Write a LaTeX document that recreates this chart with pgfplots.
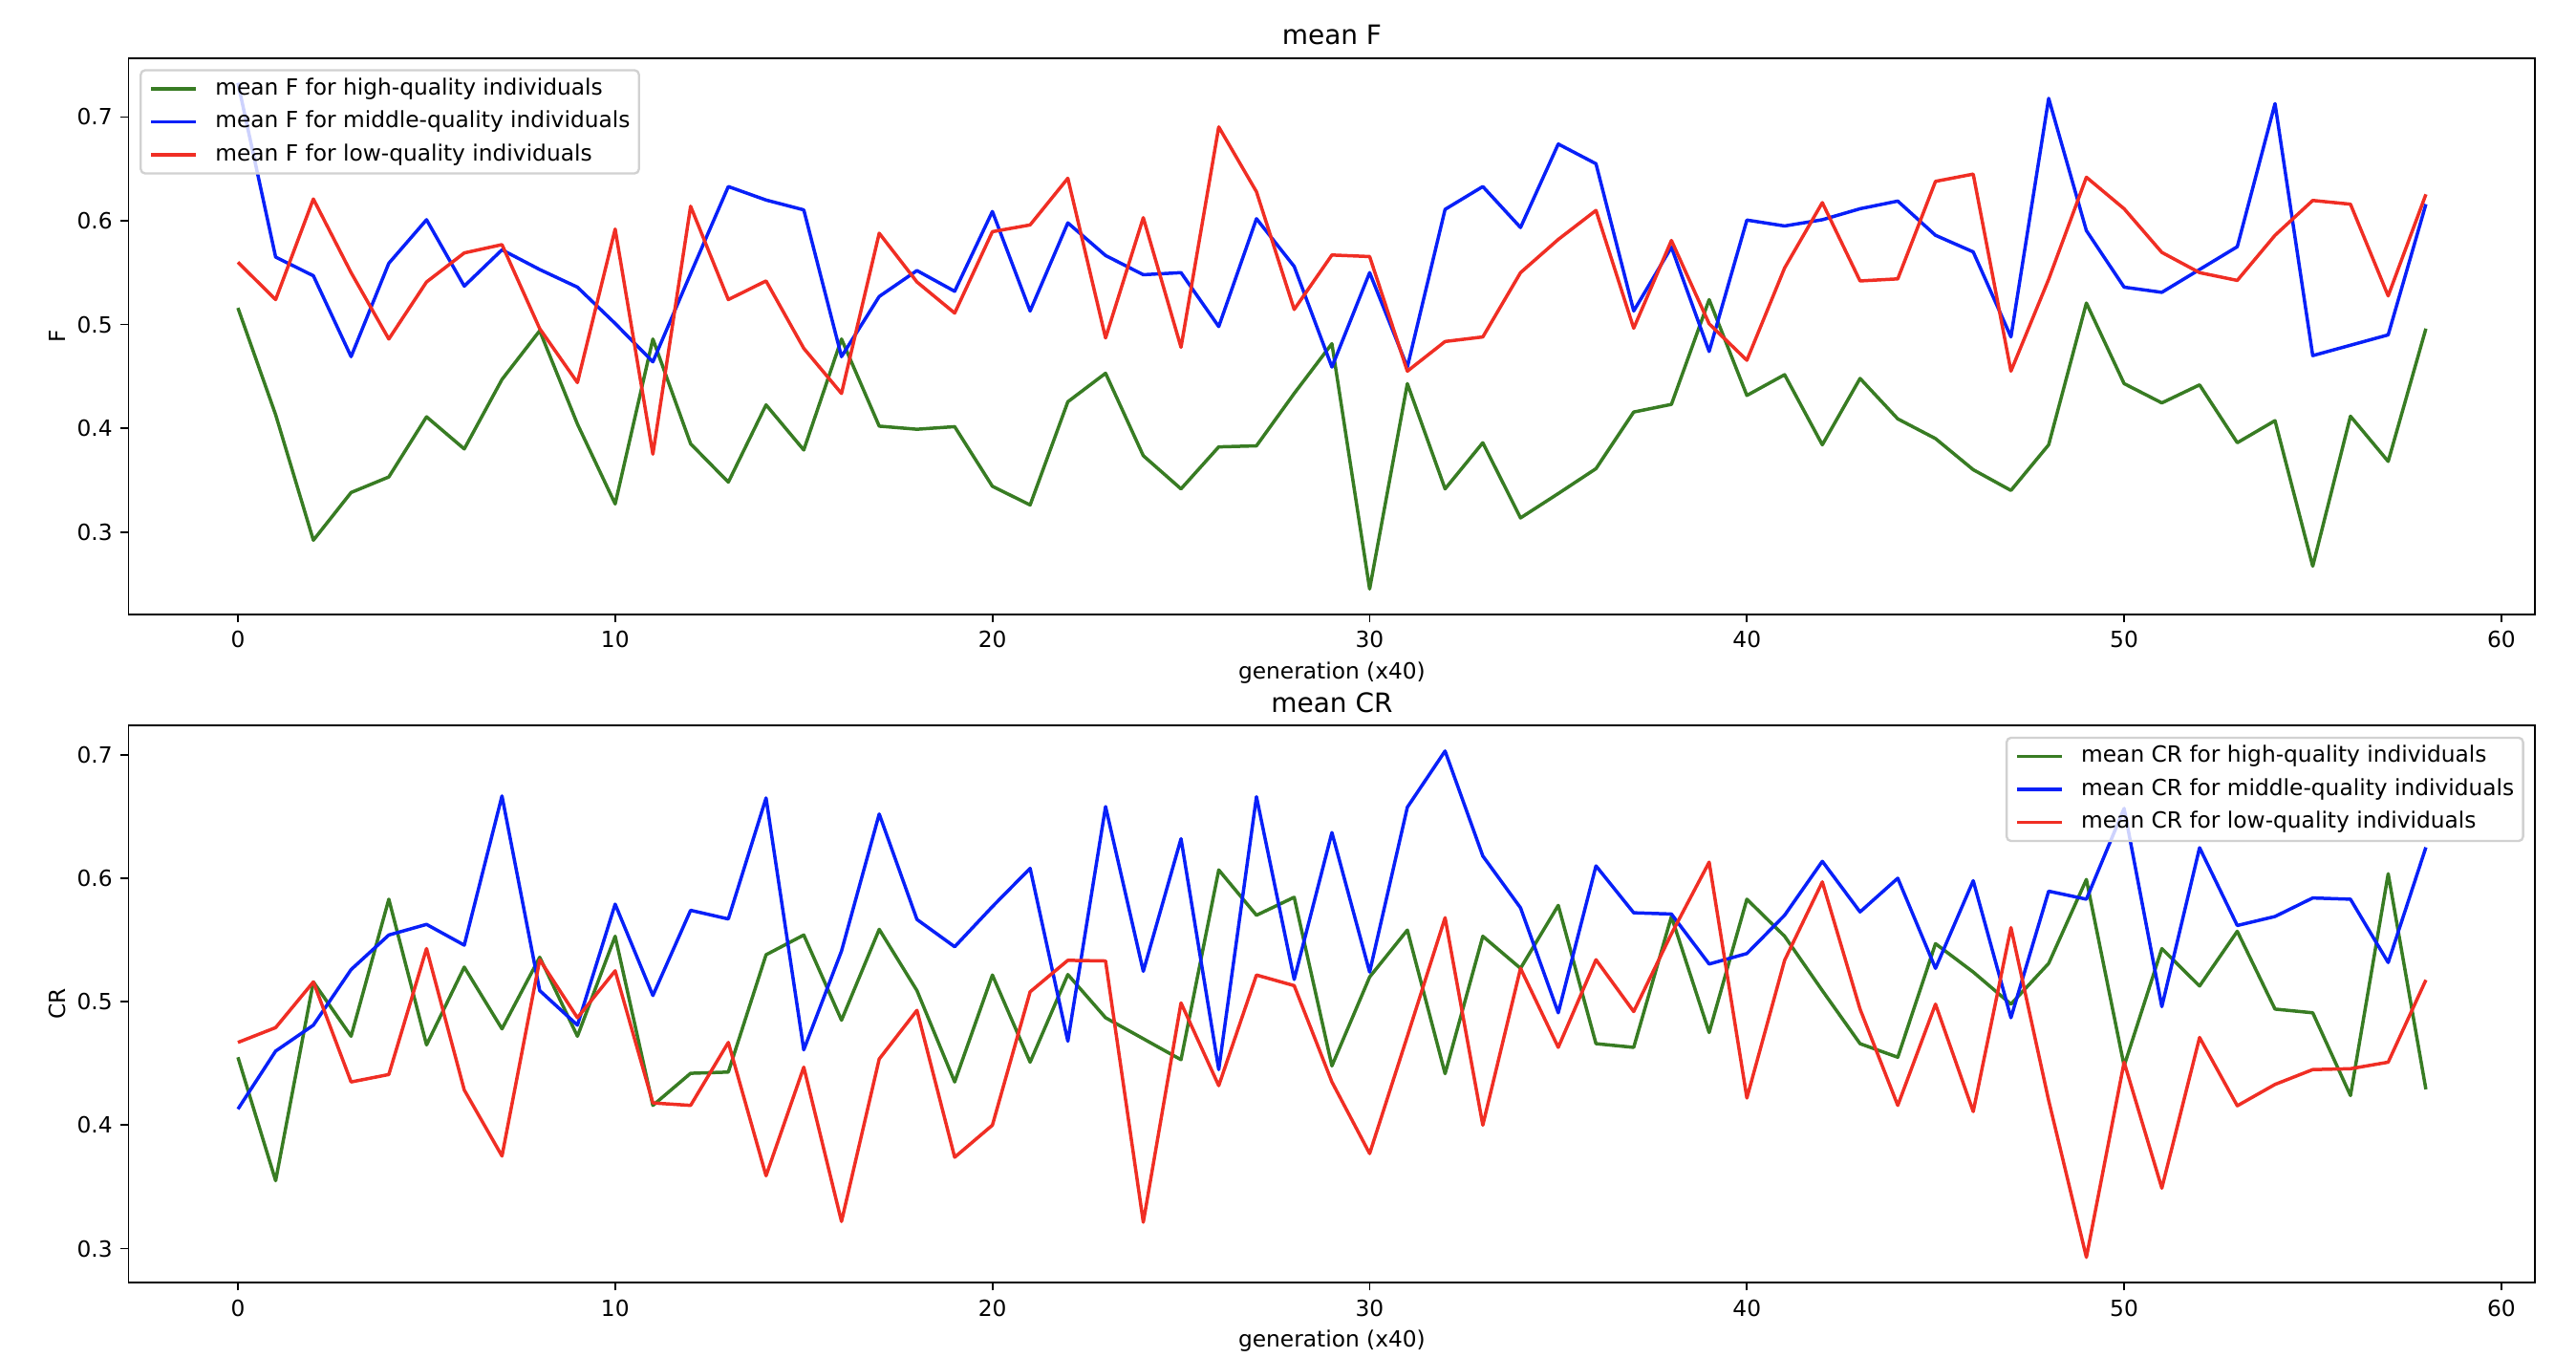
\documentclass[border=0pt]{standalone}
\usepackage{pgfplots}
\pgfplotsset{compat=1.18}
\usepackage{pgfplotstable}
\usepackage{fontspec}
\setmainfont{DejaVu Sans}
\definecolor{cg}{RGB}{56,124,35}
\definecolor{cb}{RGB}{8,32,248}
\definecolor{cr}{RGB}{240,46,36}

\pgfplotstableread{
x hi mid lo
0 0.516 0.733 0.560
1 0.413 0.565 0.524
2 0.292 0.547 0.621
3 0.338 0.469 0.550
4 0.353 0.559 0.486
5 0.411 0.601 0.541
6 0.380 0.537 0.569
7 0.447 0.572 0.577
8 0.494 0.553 0.496
9 0.404 0.536 0.444
10 0.327 0.501 0.592
11 0.486 0.464 0.375
12 0.385 0.549 0.614
13 0.348 0.633 0.524
14 0.4225 0.620 0.542
15 0.379 0.6105 0.477
16 0.486 0.469 0.4335
17 0.402 0.527 0.588
18 0.399 0.552 0.541
19 0.4015 0.532 0.511
20 0.344 0.609 0.5895
21 0.326 0.513 0.596
22 0.4255 0.598 0.641
23 0.453 0.5665 0.487
24 0.3735 0.548 0.603
25 0.3415 0.550 0.478
26 0.382 0.498 0.6905
27 0.383 0.602 0.628
28 0.4335 0.556 0.5145
29 0.4815 0.459 0.567
30 0.245 0.550 0.5655
31 0.443 0.459 0.455
32 0.3415 0.611 0.4836
33 0.386 0.633 0.488
34 0.3135 0.5935 0.550
35 0.337 0.674 0.582
36 0.361 0.655 0.610
37 0.4156 0.513 0.4964
38 0.423 0.5745 0.581
39 0.524 0.474 0.5007
40 0.4316 0.6007 0.4655
41 0.4516 0.595 0.5545
42 0.384 0.601 0.6175
43 0.448 0.6116 0.542
44 0.409 0.619 0.544
45 0.390 0.586 0.638
46 0.360 0.570 0.645
47 0.340 0.488 0.455
48 0.384 0.718 0.5436
49 0.5207 0.5905 0.642
50 0.443 0.536 0.6116
51 0.4244 0.531 0.5695
52 0.4418 0.553 0.550
53 0.386 0.575 0.5425
54 0.4073 0.713 0.586
55 0.267 0.470 0.6196
56 0.4116 0.480 0.616
57 0.368 0.490 0.5276
58 0.496 0.616 0.6255
}\Fdata

\pgfplotstableread{
x hi mid lo
0 0.455 0.413 0.467
1 0.355 0.460 0.479
2 0.516 0.481 0.516
3 0.472 0.526 0.435
4 0.583 0.554 0.441
5 0.465 0.5626 0.543
6 0.528 0.5458 0.4285
7 0.478 0.6666 0.375
8 0.536 0.509 0.534
9 0.472 0.481 0.487
10 0.553 0.579 0.525
11 0.416 0.505 0.418
12 0.442 0.574 0.416
13 0.443 0.567 0.467
14 0.538 0.665 0.359
15 0.554 0.461 0.447
16 0.485 0.541 0.322
17 0.5586 0.652 0.4536
18 0.509 0.5666 0.493
19 0.435 0.5445 0.374
20 0.5216 0.577 0.400
21 0.451 0.608 0.508
22 0.522 0.468 0.5335
23 0.487 0.658 0.533
24 0.470 0.5246 0.3214
25 0.453 0.632 0.499
26 0.6067 0.445 0.432
27 0.570 0.666 0.5216
28 0.5846 0.518 0.513
29 0.448 0.637 0.435
30 0.520 0.524 0.377
31 0.558 0.6575 0.472
32 0.4417 0.703 0.568
33 0.553 0.618 0.400
34 0.527 0.576 0.527
35 0.578 0.491 0.463
36 0.466 0.610 0.534
37 0.463 0.572 0.492
38 0.569 0.571 0.555
39 0.475 0.5305 0.613
40 0.583 0.539 0.422
41 0.553 0.570 0.5335
42 0.509 0.6137 0.597
43 0.466 0.5727 0.494
44 0.455 0.600 0.416
45 0.547 0.527 0.498
46 0.524 0.598 0.411
47 0.498 0.487 0.560
48 0.531 0.5895 0.420
49 0.599 0.583 0.293
50 0.448 0.6565 0.451
51 0.543 0.496 0.349
52 0.5127 0.6247 0.471
53 0.557 0.5617 0.4157
54 0.494 0.569 0.433
55 0.491 0.584 0.445
56 0.424 0.583 0.4457
57 0.6036 0.5317 0.451
58 0.429 0.625 0.5176
}\CRdata

\pgfplotsset{
  every axis title shift=0pt,
  myaxis/.style={
    scale only axis, width=1081.1pt, height=249.9pt, anchor=south west,
    xmin=-2.9, xmax=60.9,
    xtick={0,10,20,30,40,50,60},
    ytick={0.3,0.4,0.5,0.6,0.7},
    yticklabels={0.3,0.4,0.5,0.6,0.7},
    xtick pos=left, ytick pos=left,
    tick align=outside, major tick length=3.5pt,
    every tick/.style={black, line width=0.8pt},
    axis line style={line width=0.8pt, black},
    /pgf/number format/assume math mode=true,
    ticklabel style={font=\fontsize{10}{12}\selectfont, inner sep=0pt},
    xticklabel style={anchor=base, yshift=-11.5pt},
    yticklabel style={anchor=east, xshift=-3.5pt},
    xlabel={generation (x40)},
    xlabel style={at={(axis description cs:0.5,0)}, anchor=base, yshift=-29pt, font=\fontsize{10}{12}\selectfont},
    ylabel style={at={(axis description cs:-0.0262,0.5)}, anchor=base, font=\fontsize{10}{12}\selectfont},
    title style={at={(axis description cs:0.5,1)}, anchor=base, yshift=6pt, font=\fontsize{12}{14.4}\selectfont},
    legend cell align=left,
    legend image code/.code={\draw[##1] (0pt,0pt) -- (20pt,0pt);},
    legend style={draw=black!18, line width=1pt, rounded corners=2pt,
      fill=white, fill opacity=0.8, text opacity=1,
      inner xsep=4pt, inner ysep=3.4pt,
      font=\fontsize{10}{12}\selectfont,
      row sep=4.8pt, column sep=8pt,
      nodes={inner sep=0pt, text height=7.6pt, text depth=2.4pt}},
    every axis plot/.append style={line width=1.5pt, line join=round, mark=none},
  }
}

\begin{document}
\begin{tikzpicture}
\useasboundingbox (0,0) rectangle (1157.1pt,609.5pt);
\begin{axis}[myaxis, at={(57.73pt,333.57pt)},
  ymin=0.2205, ymax=0.757,
  title={mean F}, ylabel={F},
  legend style={at={(axis description cs:0,1)}, anchor=north west, xshift=5pt, yshift=-5pt}]
\addplot[cg] table[x=x, y=hi] {\Fdata};
\addlegendentry{mean F for high-quality individuals}
\addplot[cb] table[x=x, y=mid] {\Fdata};
\addlegendentry{mean F for middle-quality individuals}
\addplot[cr] table[x=x, y=lo] {\Fdata};
\addlegendentry{mean F for low-quality individuals}
\end{axis}
\begin{axis}[myaxis, at={(57.73pt,33.48pt)}, height=250.2pt,
  ymin=0.2725, ymax=0.7237,
  title={mean CR}, ylabel={CR},
  legend style={at={(axis description cs:1,1)}, anchor=north east, xshift=-5pt, yshift=-5pt}]
\addplot[cg] table[x=x, y=hi] {\CRdata};
\addlegendentry{mean CR for high-quality individuals}
\addplot[cb] table[x=x, y=mid] {\CRdata};
\addlegendentry{mean CR for middle-quality individuals}
\addplot[cr] table[x=x, y=lo] {\CRdata};
\addlegendentry{mean CR for low-quality individuals}
\end{axis}
\end{tikzpicture}
\end{document}
